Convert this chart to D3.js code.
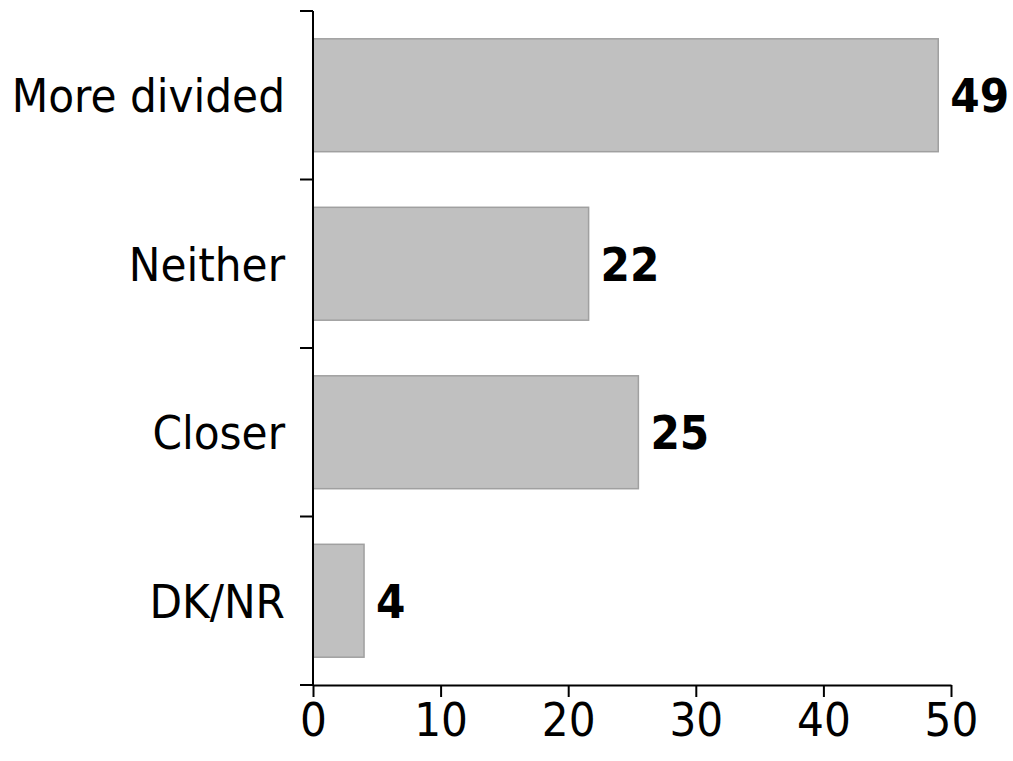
<!DOCTYPE html>
<html>
<head>
<meta charset="utf-8">
<script src="https://cdn.jsdelivr.net/npm/d3@7"></script>
<style>
  html, body { margin: 0; padding: 0; background: #fff; }
  svg text { font-family: "DejaVu Sans Condensed", "DejaVu Sans", sans-serif; font-stretch: condensed; }
</style>
</head>
<body>
<svg id="chart" width="1013" height="761"></svg>
<script>
const categories = ["More divided", "Neither", "Closer", "DK/NR"];
const values = [49, 21.6, 25.5, 4];
const valueLabels = ["49", "22", "25", "4"];
const xTicks = [0, 10, 20, 30, 40, 50];

const svg = d3.select("#chart");
const plotLeft = 313, plotRight = 951, plotTop = 11, plotBottom = 685;

const x = d3.scaleLinear().domain([0, 50]).range([plotLeft, plotRight]);
const y = d3.scaleBand().domain(categories).range([plotTop, plotBottom])
  .paddingInner(0.33).paddingOuter(0.165);

// bars
svg.append("g").selectAll("rect")
  .data(categories)
  .join("rect")
  .attr("x", x(0))
  .attr("y", d => y(d))
  .attr("width", (d, i) => x(values[i]) - x(0))
  .attr("height", y.bandwidth())
  .attr("fill", "#c0c0c0")
  .attr("stroke", "#a0a0a0")
  .attr("stroke-width", 1.5);

// value labels
svg.append("g").selectAll("text")
  .data(categories)
  .join("text")
  .attr("x", (d, i) => x(values[i]) + 12)
  .attr("y", d => y(d) + y.bandwidth() / 2)
  .attr("dy", "0.36em")
  .attr("font-size", 47)
  .attr("font-weight", "bold")
  .attr("fill", "#000")
  .text((d, i) => valueLabels[i]);

// x axis
const xAxis = d3.axisBottom(x).tickValues(xTicks).tickSize(12).tickPadding(6).tickSizeOuter(0);
const gx = svg.append("g").attr("transform", `translate(0,${plotBottom})`).call(xAxis);
gx.select(".domain").attr("stroke", "#000").attr("stroke-width", 2);
gx.selectAll(".tick line").attr("stroke", "#000").attr("stroke-width", 2);
gx.selectAll(".tick text").attr("font-size", 47).attr("fill", "#000")
  .style("font-family", '"DejaVu Sans Condensed", "DejaVu Sans", sans-serif');

// y axis (category boundaries)
const step = y.step();
const boundaries = categories.map(c => y(c) - y.paddingInner() * step / 2);
boundaries.push(plotBottom);
const gy = svg.append("g");
gy.append("line")
  .attr("x1", plotLeft).attr("x2", plotLeft)
  .attr("y1", plotTop).attr("y2", plotBottom)
  .attr("stroke", "#000").attr("stroke-width", 2);
gy.selectAll("line.tk")
  .data(boundaries)
  .join("line")
  .attr("class", "tk")
  .attr("x1", plotLeft - 13).attr("x2", plotLeft)
  .attr("y1", d => d).attr("y2", d => d)
  .attr("stroke", "#000").attr("stroke-width", 2);
gy.selectAll("text")
  .data(categories)
  .join("text")
  .attr("x", plotLeft - 28)
  .attr("y", d => y(d) + y.bandwidth() / 2)
  .attr("dy", "0.36em")
  .attr("text-anchor", "end")
  .attr("font-size", 47)
  .attr("fill", "#000")
  .text(d => d);
</script>
</body>
</html>
